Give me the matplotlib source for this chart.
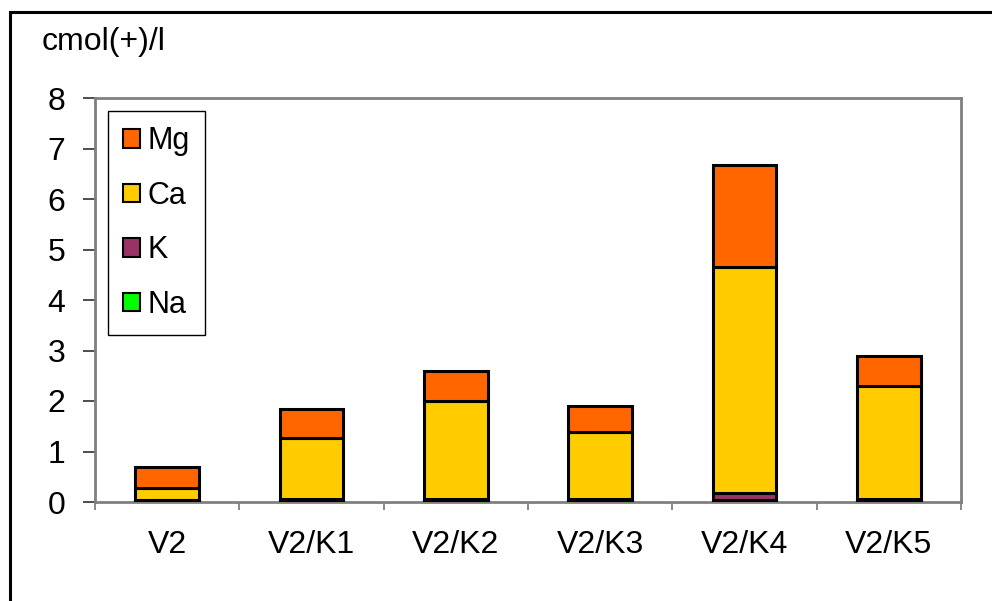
import matplotlib
matplotlib.use("Agg")
import matplotlib.pyplot as plt
from matplotlib.patches import Rectangle, Patch
import numpy as np

plt.rcParams['font.family'] = ['Liberation Sans', 'DejaVu Sans']

categories = ["V2", "V2/K1", "V2/K2", "V2/K3", "V2/K4", "V2/K5"]
na = [0.02, 0.02, 0.02, 0.02, 0.04, 0.02]
k = [0.02, 0.03, 0.03, 0.03, 0.13, 0.03]
ca = [0.24, 1.22, 1.95, 1.34, 4.48, 2.25]
mg = [0.41, 0.57, 0.59, 0.51, 2.02, 0.59]

series = [("Na", na, "#00FF00"), ("K", k, "#993366"),
          ("Ca", ca, "#FFCC00"), ("Mg", mg, "#FF6600")]

fig = plt.figure(figsize=(9.92, 6.01), dpi=100)
ax = fig.add_axes([95/992, 1-502/601, (961-95)/992, (502-98)/601])

x = np.arange(len(categories)) + 0.5
bottom = np.zeros(len(categories))
for name, vals, col in series:
    ax.bar(x, vals, width=0.44, bottom=bottom, color=col, edgecolor="black",
           linewidth=2.2, zorder=3)
    bottom += np.array(vals)

ax.set_xlim(0, 6)
ax.set_ylim(0, 8)
ax.set_yticks(range(0, 9))
ax.set_xticks(range(0, 7))
ax.set_xticklabels([])
ax.set_xticks(x, minor=True)
ax.set_xticklabels(categories, minor=True)
ax.tick_params(axis='x', which='major', direction='out', length=6, width=1.3, color="#808080")
ax.tick_params(axis='x', which='minor', length=0, pad=20, labelsize=23)
ax.tick_params(axis='y', direction='out', length=8.5, width=1.3, color="#404040", labelsize=23, pad=13)
for s in ax.spines.values():
    s.set_color("#808080")
    s.set_linewidth(2)

handles = [Patch(facecolor=c, edgecolor="black", linewidth=1.5, label=n)
           for n, _, c in series[::-1]]
leg = ax.legend(handles=handles, loc="upper left", bbox_to_anchor=(13/866, 1-13/404),
                fontsize=22, frameon=True, fancybox=False, framealpha=1,
                edgecolor="black", handlelength=0.55, handleheight=0.55,
                handletextpad=0.25, labelspacing=0.8, borderpad=0.5, borderaxespad=0)
leg.get_frame().set_linewidth(1.0)

fig.text(42/992, 1-42/601, "cmol(+)/l", fontsize=23, va="center", ha="left")

fig.patches.append(Rectangle((10/992, -0.1), 1.2, 1-12/601+0.1, transform=fig.transFigure,
                             fill=False, edgecolor="black", linewidth=2.2))

fig.savefig("out.png", dpi=100)
